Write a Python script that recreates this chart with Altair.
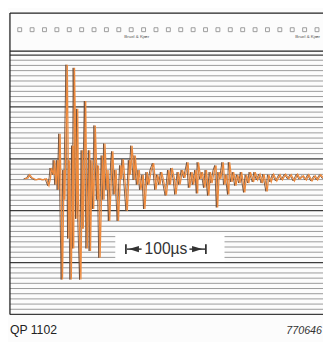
import altair as alt
import pandas as pd

# ---- Waveform: time (µs) and pen deflection (chart divisions, + up)
time_us = [18, 22, 24, 27, 32, 37, 41, 45, 48, 50,
           51, 54, 55, 57, 59, 60, 62, 65, 67, 68,
           71, 73, 74, 76, 78, 79, 80, 83, 84, 85,
           88, 90, 91, 94, 96, 99, 100, 102, 104, 106,
           109, 110, 112, 115, 117, 118, 121, 122, 124, 127,
           128, 130, 132, 135, 138, 139, 141, 144, 146, 149,
           150, 152, 155, 156, 159, 161, 163, 166, 168, 171,
           173, 176, 179, 182, 184, 187, 189, 191, 195, 198,
           200, 202, 205, 207, 210, 212, 215, 218, 222, 224,
           227, 229, 232, 234, 235, 238, 240, 243, 245, 248,
           250, 252, 255, 257, 259, 261, 263, 266, 268, 270,
           273, 274, 277, 279, 282, 284, 287, 289, 293, 295,
           298, 300, 304, 306, 309, 312, 315, 317, 321, 323,
           326, 329, 333, 337, 340, 344, 348, 351, 355, 359,
           362, 366, 370, 373, 377, 381, 384, 388, 392]
deflection = [0, 0.2, 0.8, 0.2, -0.2, 0, -0.2, 0, -1.3, 0.2,
              2.1, 0.8, 3.6, -1.1, 3.6, -2.1, 8.7, -19.4, 1.7, -4.0,
              22.0, -11.5, 3.6, -19.4, 6.4, -13.4, 21.4, -7.7, 13.5, -4.0,
              -19.4, 5.5, -9.6, 15.0, -13.4, 5.5, -13.9, 3.6, -5.8, 10.3,
              -4.0, 2.6, -15.2, 4.5, -4.0, 6.8, -2.1, 1.7, -8.1, 3.6,
              5.3, -3.0, 1.7, -8.1, 2.6, 0, 3.8, -2.1, -6.2, 3.6,
              0.8, 6.4, -0.2, 4.5, -1.1, 1.7, -2.1, 0.8, -5.8, 1.3,
              -1.1, 1.7, 3.0, -2.1, 0.8, -1.1, 1.3, 0, -3.2, 1.7,
              -1.1, 2.1, 0, -3.0, 1.3, -1.1, 1.7, 0.2, 3.2, -1.7,
              1.3, -1.1, 1.7, -2.8, 3.2, 0, 1.3, -1.7, 1.7, -3.2,
              1.3, -0.8, 1.7, 2.6, -5.5, 1.3, 0, 3.2, -1.1, 0.8,
              -3.0, 3.2, -0.6, 1.3, -1.3, 0.8, -0.8, 1.3, -2.6, 0.8,
              -0.8, 1.3, -0.6, 1.3, -0.2, 0.9, -0.8, 0.9, -2.4, 0.8,
              -0.6, 0.9, -0.4, 0.8, -0.2, 0.9, 0, 0.8, -0.4, 0.9,
              0, 0.6, -0.2, 0.8, -0.4, 0.6, -0.2, 0.8, 0]

# ---- Chart paper
grid_divisions = 50          # horizontal ruling lines
major_every = 10
baseline_offset = 26.13      # baseline sits 26.13 divisions above the bottom ruling
perforations = 25
perf_pitch_us = 15.49
perf_start_us = 12.2
scale_bar_start_us = 145
scale_bar_len_us = 100
brand_text = "Bruel & Kjær"
scale_text = "100µs"
left_code = "QP 1102"
right_code = "770646"

W, H = 323, 334
FONT = "Liberation Sans"

xs = alt.Scale(domain=[-2.44, 391.46], nice=False, zero=False)
ys = alt.Scale(domain=[-30.64, 32.14], nice=False, zero=False)

wave = pd.DataFrame({"t": time_us, "d": deflection})
grid = pd.DataFrame({"k": list(range(grid_divisions + 1))})
grid["d"] = grid["k"] - baseline_offset
grid["major"] = grid["k"] % major_every == 0
perf = pd.DataFrame({"t": [perf_start_us + perf_pitch_us * i for i in range(perforations)]})
bar = pd.DataFrame({"t": [scale_bar_start_us, scale_bar_start_us + scale_bar_len_us]})
one = pd.DataFrame({"a": [0]})

minor = alt.Chart(grid).transform_filter("!datum.major").mark_rule(
    color="#8e8e8e", strokeWidth=0.9).encode(
    y=alt.Y("d:Q", scale=ys, axis=None), x=alt.value(2), x2=alt.value(W))
major = alt.Chart(grid).transform_filter("datum.major").mark_rule(
    color="#3c3c3c", strokeWidth=1.3).encode(
    y=alt.Y("d:Q", scale=ys, axis=None), x=alt.value(2), x2=alt.value(W))

white_box = alt.Chart(one).mark_rect(color="white").encode(
    x=alt.value(110), x2=alt.value(222), y=alt.value(228), y2=alt.value(256))

frame_left = alt.Chart(one).mark_rule(color="#222", strokeWidth=1.3).encode(
    x=alt.value(2), y=alt.value(1), y2=alt.value(310))
frame_top = alt.Chart(one).mark_rule(color="#222", strokeWidth=1.2).encode(
    x=alt.value(2), x2=alt.value(W), y=alt.value(1))
head_bottom = alt.Chart(one).mark_rule(color="#222", strokeWidth=1.2).encode(
    x=alt.value(2), x2=alt.value(W), y=alt.value(40))

holes = alt.Chart(perf).mark_square(filled=False, size=16, color="#666", strokeWidth=0.9).encode(
    x=alt.X("t:Q", scale=xs, axis=None), y=alt.value(18))

brand1 = alt.Chart(one).mark_text(text=brand_text, fontSize=4.5, color="#555", font=FONT).encode(
    x=alt.value(132), y=alt.value(26))
brand2 = alt.Chart(one).mark_text(text=brand_text, fontSize=4.5, color="#555", font=FONT, align="right").encode(
    x=alt.value(320), y=alt.value(26))

trace_dark = alt.Chart(wave).mark_line(color="#6e4a33", strokeWidth=0.9, xOffset=-0.8).encode(
    x=alt.X("t:Q", scale=xs, axis=None), y=alt.Y("d:Q", scale=ys, axis=None))
trace = alt.Chart(wave).mark_line(color="#ee8a3c", strokeWidth=1.3, xOffset=0.6).encode(
    x=alt.X("t:Q", scale=xs, axis=None), y=alt.Y("d:Q", scale=ys, axis=None))

bar_ends = alt.Chart(bar).mark_rule(color="#333", strokeWidth=1.8).encode(
    x=alt.X("t:Q", scale=xs, axis=None), y=alt.value(238), y2=alt.value(248))
left_head = alt.Chart(one).mark_point(shape="M -1 0 L 1 -0.6 L 1 0.6 Z", filled=True, color="#333",
                                      size=110, opacity=1).encode(x=alt.value(129), y=alt.value(243))
right_head = alt.Chart(one).mark_point(shape="M 1 0 L -1 -0.6 L -1 0.6 Z", filled=True, color="#333",
                                       size=110, opacity=1).encode(x=alt.value(194), y=alt.value(243))
shafts = alt.Chart(one).mark_rule(color="#333", strokeWidth=1.5).encode(
    x=alt.value(122), x2=alt.value(137), y=alt.value(243))
shafts2 = alt.Chart(one).mark_rule(color="#333", strokeWidth=1.5).encode(
    x=alt.value(186), x2=alt.value(202), y=alt.value(243))
label = alt.Chart(one).mark_text(text=scale_text, fontSize=16, color="#333", font=FONT,
                                 baseline="middle").encode(x=alt.value(162), y=alt.value(243))

code_l = alt.Chart(one).mark_text(text=left_code, fontSize=12.5, color="#222", font=FONT,
                                  align="left", baseline="alphabetic").encode(x=alt.value(2), y=alt.value(330))
code_r = alt.Chart(one).mark_text(text=right_code, fontSize=11, color="#333", font=FONT, fontStyle="italic",
                                  align="right", baseline="alphabetic").encode(x=alt.value(322), y=alt.value(330))

chart = alt.layer(
    minor, major, white_box, frame_left, frame_top, head_bottom, holes, brand1, brand2,
    trace_dark, trace, bar_ends, shafts, shafts2, left_head, right_head, label, code_l, code_r
).properties(width=W, height=H, padding=0, autosize=alt.AutoSizeParams(type="none"),
             background="#fcfcfc").configure_view(stroke=None)

chart.save("out.html", embed_options={"renderer": "svg", "actions": False})
